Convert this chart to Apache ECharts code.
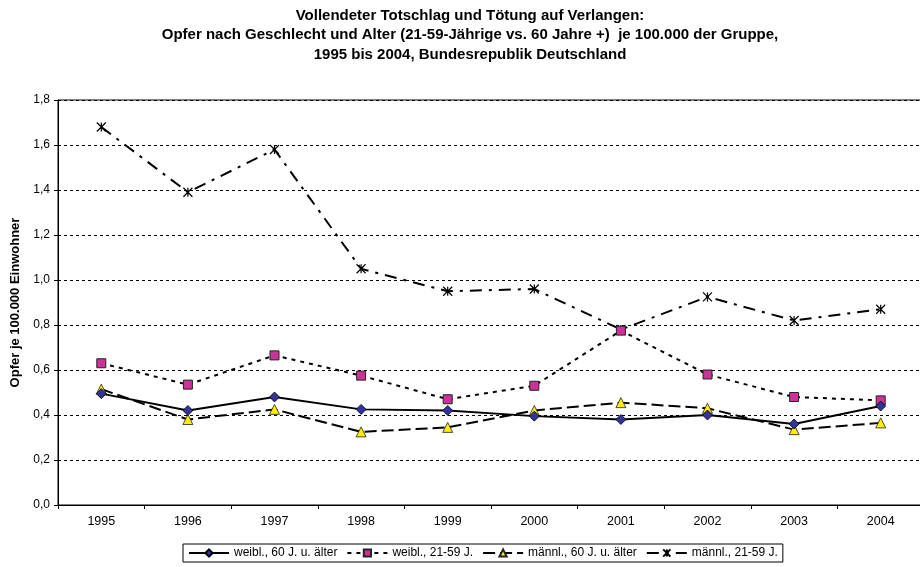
<!DOCTYPE html>
<html>
<head>
<meta charset="utf-8">
<script src="https://cdn.jsdelivr.net/npm/echarts@6/dist/echarts.min.js"></script>
<style>
  html, body { margin: 0; padding: 0; background: #fff; }
  #chart { width: 920px; height: 567px; }
</style>
</head>
<body>
<div id="chart"></div>
<script>
// Jahre
var years = ["1995", "1996", "1997", "1998", "1999", "2000", "2001", "2002", "2003", "2004"];
// Opfer je 100.000 der Gruppe
var weibl60 = [0.495, 0.42, 0.48, 0.425, 0.42, 0.395, 0.38, 0.40, 0.36, 0.44];
var weibl2159 = [0.63, 0.535, 0.665, 0.575, 0.47, 0.53, 0.775, 0.58, 0.48, 0.465];
var maennl60 = [0.515, 0.38, 0.425, 0.325, 0.345, 0.42, 0.455, 0.43, 0.335, 0.365];
var maennl2159 = [1.68, 1.39, 1.58, 1.05, 0.95, 0.96, 0.78, 0.925, 0.82, 0.87];
var seriesNames = ["weibl., 60 J. u. älter", "weibl., 21-59 J.", "männl., 60 J. u. älter", "männl., 21-59 J."];

var font = "Liberation Sans, Arial, sans-serif";
var myChart = echarts.init(document.getElementById("chart"));

// Stern-Symbol (x mit senkrechtem Strich)
var starPath = "path://M0,0 L10,10 M10,0 L0,10 M5,0 L5,10";

var option = {
  backgroundColor: "#fff",
  animation: false,
  textStyle: { fontFamily: font, color: "#000" },
  title: {
    text: "Vollendeter Totschlag und Tötung auf Verlangen:\nOpfer nach Geschlecht und Alter (21-59-Jährige vs. 60 Jahre +)  je 100.000 der Gruppe,\n1995 bis 2004, Bundesrepublik Deutschland",
    left: 465,
    textAlign: "center",
    top: 1,
    textStyle: {
      fontFamily: font,
      fontSize: 15,
      fontWeight: "bold",
      color: "#000",
      lineHeight: 19.5
    }
  },
  legend: {
    left: 183,
    top: 544,
    itemWidth: 40,
    itemHeight: 9,
    itemGap: 9,
    padding: [3, 5, 3, 5],
    borderColor: "#000",
    borderWidth: 1,
    textStyle: { fontFamily: font, fontSize: 12, color: "#000" },
    data: seriesNames
  },
  grid: {
    left: 58,
    right: -4,
    top: 100,
    bottom: 62,
    outerBoundsMode: "none",
    show: true,
    borderColor: "#000",
    borderWidth: 1
  },
  xAxis: {
    type: "category",
    data: years,
    boundaryGap: true,
    axisLine: { lineStyle: { color: "#000", width: 1 } },
    axisTick: { show: true, length: 4, lineStyle: { color: "#000" } },
    axisLabel: { color: "#000", fontSize: 12.5, fontFamily: font, margin: 10 }
  },
  yAxis: {
    type: "value",
    min: 0,
    max: 1.8,
    interval: 0.2,
    name: "Opfer je 100.000 Einwohner",
    nameLocation: "middle",
    nameRotate: 90,
    nameGap: 36,
    nameTextStyle: { fontFamily: font, fontSize: 13, fontWeight: "bold", color: "#000" },
    axisLine: { show: true, lineStyle: { color: "#000", width: 1 } },
    axisTick: { show: true, length: 4, lineStyle: { color: "#000" } },
    axisLabel: {
      color: "#000",
      fontSize: 12,
      fontFamily: font,
      margin: 8,
      formatter: function (v) { return v.toFixed(1).replace(".", ","); }
    },
    splitLine: { show: true, lineStyle: { color: "#000", width: 1, type: [3, 3] } }
  },
  series: [
    {
      name: seriesNames[0],
      type: "line",
      data: weibl60,
      symbol: "diamond",
      symbolSize: 10,
      z: 5,
      lineStyle: { color: "#000", width: 2, type: "solid" },
      itemStyle: { color: "#333399", borderColor: "#000", borderWidth: 0.8 }
    },
    {
      name: seriesNames[1],
      type: "line",
      data: weibl2159,
      symbol: "rect",
      symbolSize: 9,
      z: 4,
      lineStyle: { color: "#000", width: 2, type: [4, 5] },
      itemStyle: { color: "#CC3399", borderColor: "#222", borderWidth: 1 }
    },
    {
      name: seriesNames[2],
      type: "line",
      data: maennl60,
      symbol: "triangle",
      symbolSize: 10,
      z: 3,
      lineStyle: { color: "#000", width: 2, type: [12, 5] },
      itemStyle: { color: "#FFEE00", borderColor: "#222", borderWidth: 0.8 }
    },
    {
      name: seriesNames[3],
      type: "line",
      data: maennl2159,
      symbol: starPath,
      symbolSize: 9,
      z: 2,
      lineStyle: { color: "#000", width: 2, type: [12, 7, 3, 7] },
      itemStyle: { color: "#000", borderColor: "#000", borderWidth: 1.2 }
    }
  ]
};
myChart.setOption(option);
</script>
</body>
</html>
